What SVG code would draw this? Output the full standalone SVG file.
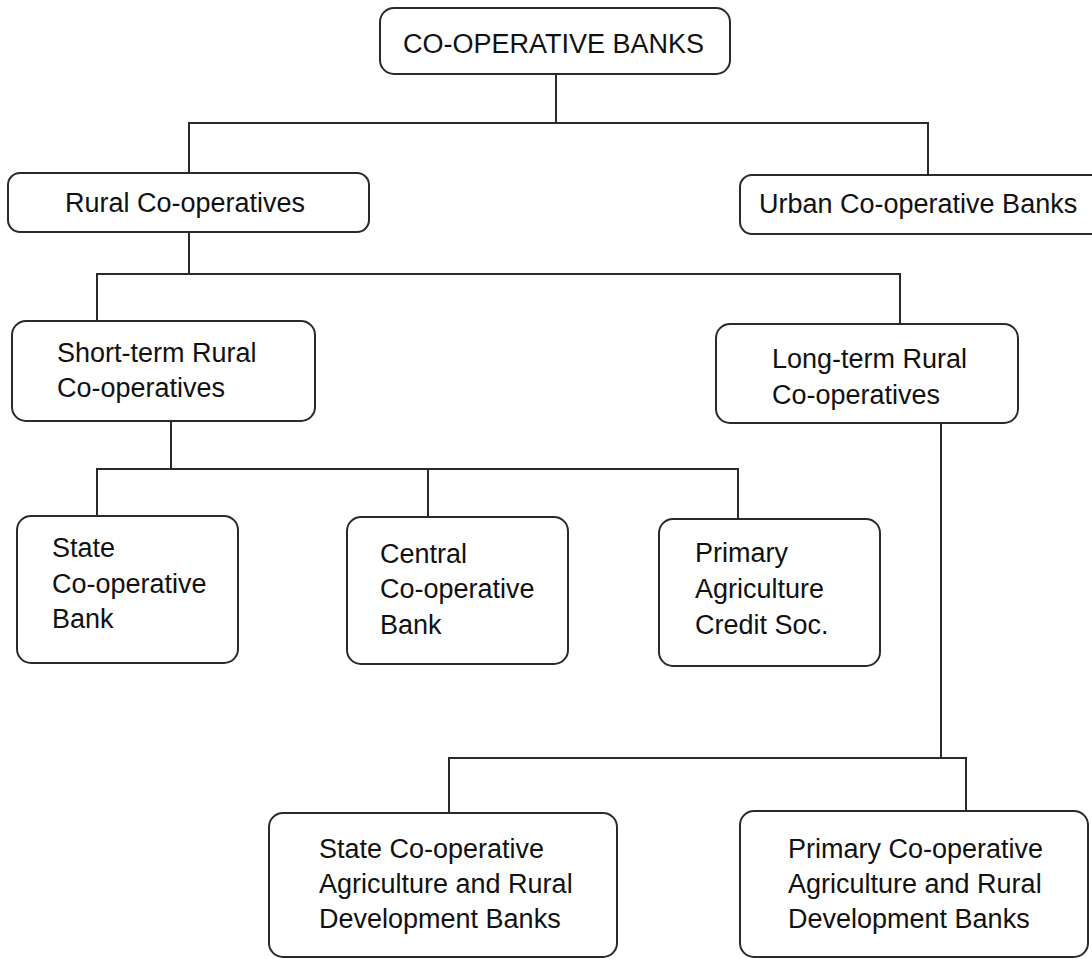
<svg xmlns="http://www.w3.org/2000/svg" width="1092" height="959" viewBox="0 0 1092 959">
<style>
.box{fill:#fff;stroke:#2a2a2a;stroke-width:2}
.t{font-family:"Liberation Sans",Arial,sans-serif;font-size:27px;fill:#111}
.c{fill:none;stroke:#2a2a2a;stroke-width:2}
</style>
<rect width="1092" height="959" fill="#fff"/>
<g id="connectors">
<path class="c" d="M556 75V123M189 173V123H928V175"/>
<path class="c" d="M189 232V274M97 321V274H900V324"/>
<path class="c" d="M171 421V469M97 516V469H738V519M428 469V517"/>
<path class="c" d="M941 423V758M449 813V758H966V811"/>
</g>
<g id="n-coop">
<rect class="box" x="380" y="8" width="350" height="66" rx="14"/>
<text class="t" x="403" y="53">CO-OPERATIVE BANKS</text>
</g>
<g id="n-rural">
<rect class="box" x="8" y="173" width="361" height="59" rx="12"/>
<text class="t" x="65" y="212">Rural Co-operatives</text>
</g>
<g id="n-urban">
<rect class="box" x="740" y="175" width="370" height="59" rx="12"/>
<text class="t" x="759" y="213">Urban Co-operative Banks</text>
</g>
<g id="n-short">
<rect class="box" x="12" y="321" width="303" height="100" rx="14"/>
<text class="t" x="57" y="362">Short-term Rural</text>
<text class="t" x="57" y="397">Co-operatives</text>
</g>
<g id="n-long">
<rect class="box" x="716" y="324" width="302" height="99" rx="14"/>
<text class="t" x="772" y="368">Long-term Rural</text>
<text class="t" x="772" y="404">Co-operatives</text>
</g>
<g id="n-scb">
<rect class="box" x="17" y="516" width="221" height="147" rx="14"/>
<text class="t" x="52" y="557">State</text>
<text class="t" x="52" y="593">Co-operative</text>
<text class="t" x="52" y="628">Bank</text>
</g>
<g id="n-ccb">
<rect class="box" x="347" y="517" width="221" height="147" rx="14"/>
<text class="t" x="380" y="563">Central</text>
<text class="t" x="380" y="598">Co-operative</text>
<text class="t" x="380" y="634">Bank</text>
</g>
<g id="n-pacs">
<rect class="box" x="659" y="519" width="221" height="147" rx="14"/>
<text class="t" x="695" y="562">Primary</text>
<text class="t" x="695" y="598">Agriculture</text>
<text class="t" x="695" y="634">Credit Soc.</text>
</g>
<g id="n-scardb">
<rect class="box" x="269" y="813" width="348" height="144" rx="14"/>
<text class="t" x="319" y="858">State Co-operative</text>
<text class="t" x="319" y="893">Agriculture and Rural</text>
<text class="t" x="319" y="928">Development Banks</text>
</g>
<g id="n-pcardb">
<rect class="box" x="740" y="811" width="348" height="146" rx="14"/>
<text class="t" x="788" y="858">Primary Co-operative</text>
<text class="t" x="788" y="893">Agriculture and Rural</text>
<text class="t" x="788" y="928">Development Banks</text>
</g>
</svg>
